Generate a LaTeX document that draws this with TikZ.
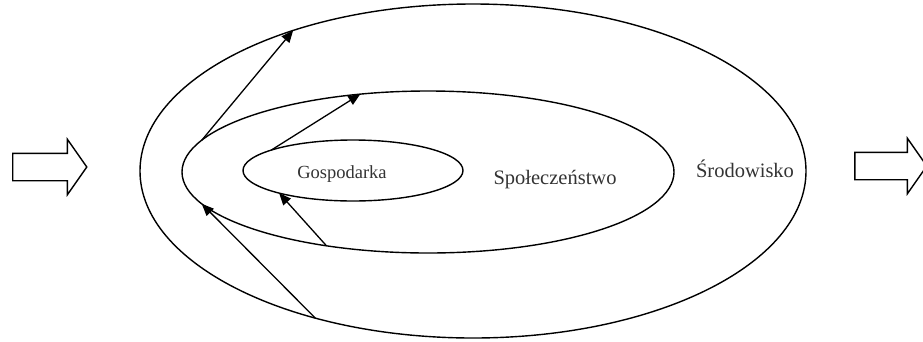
\documentclass[tikz,border=0pt]{standalone}
\usepackage{fontspec}
\setmainfont{Liberation Serif}
\usetikzlibrary{
  shapes, shapes.geometric, shapes.arrows,
  arrows.meta, positioning
}
\tikzset{
  % Ellipse ring
  ring/.style={
    ellipse, draw=black, line width=1.4pt,
    inner sep=0pt, outer sep=0pt
  },
  % Hollow block arrow
  blockarr/.style={
    single arrow, draw=black, line width=1.4pt,
    minimum height=74pt, single arrow head extend=14pt,
    single arrow tip angle=110, inner xsep=0pt, inner ysep=13pt
  },
  % Arrows
  arr/.style={-{Triangle[length=12pt,width=10pt]}, line width=1.3pt},
  % Labels
  lbl/.style={anchor=base, text=black!80, font=\fontsize{20.5}{24}\selectfont},
  lbl small/.style={lbl, font=\fontsize{18.5}{22}\selectfont},
}

\begin{document}
\begin{tikzpicture}[x=1pt, y=-1pt]
  \useasboundingbox (0,0) rectangle (923,341);

  %% ---- RINGS ----
  \node[ring, minimum width=666pt, minimum height=334pt] (env) at (473,171) {};
  \node[ring, minimum width=492pt, minimum height=162pt] (soc) at (428,172) {};
  \node[ring, minimum width=220pt, minimum height=61pt]  (eco) at (353,170.5) {};

  %% ---- LABELS ----
  \node[lbl small] (eco_l) at (342,178) {Gospodarka};
  \node[lbl] (soc_l) at (555,184) {Społeczeństwo};
  \node[lbl] (env_l) at (745,177) {Środowisko};

  %% ---- INPUT / OUTPUT ----
  \node[blockarr] (inp) at (45,167) {};
  \node[blockarr, minimum height=72pt] (outp) at (886,166) {};

  %% Arrows: outward
  \draw[arr] (soc.172.6) -- (env.142.6);
  \draw[arr] (eco.166.8) -- (soc.131.6);

  %% Arrows: inward
  \draw[arr] (soc.216.6) -- (eco.197);
  \draw[arr] (env.223.3) -- (soc.188);

\end{tikzpicture}
\end{document}
